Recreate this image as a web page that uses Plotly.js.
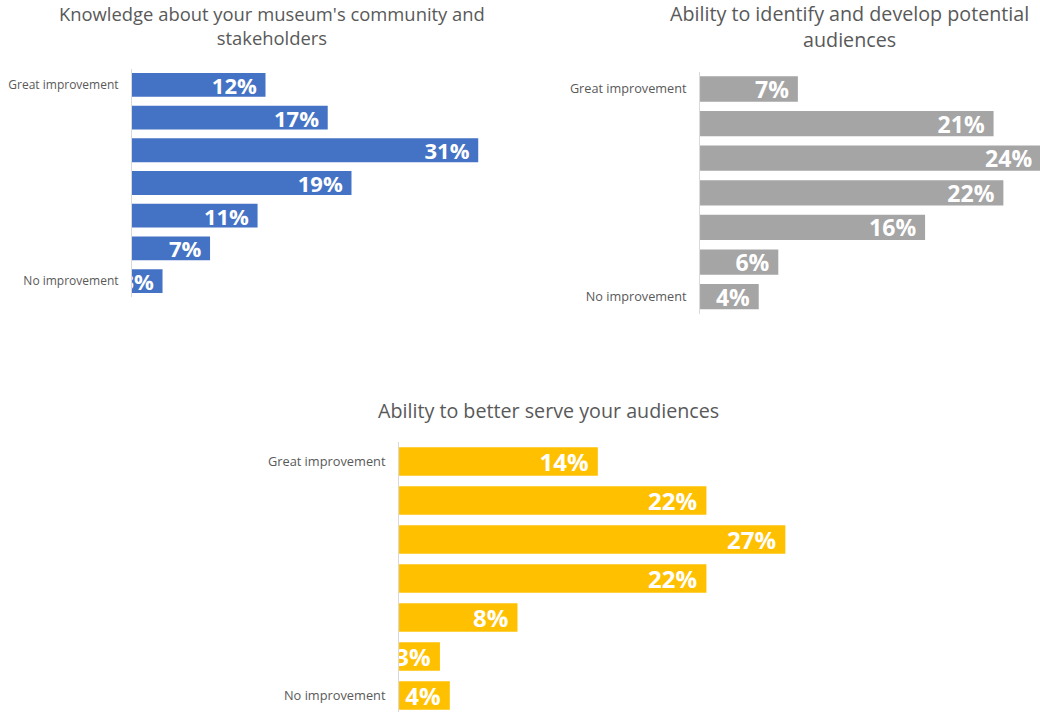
<!DOCTYPE html>
<html>
<head>
<meta charset="utf-8">
<script src="https://cdn.plot.ly/plotly-3.0.1.min.js"></script>
<style>html,body{margin:0;padding:0;background:#fff;}#chart{width:1040px;height:712px;}</style>
</head>
<body>
<div id="chart"></div>
<script>
// Scale points (top to bottom) and the two labelled ends
const scalePoints = ["Great improvement", "6", "5", "4", "3", "2", "No improvement"];
const tickLabels = ["Great improvement", "No improvement"];

// Chart titles
const title1 = "Knowledge about your museum's community and<br>stakeholders";
const title2 = "Ability to identify and develop potential<br>audiences";
const title3 = "Ability to better serve your audiences";

// Percent of respondents per scale point
const knowledgeCommunity = [11.8, 17.3, 30.6, 19.4, 11.1, 6.9, 2.7];
const identifyAudiences = [7.0, 21.0, 24.4, 21.7, 16.1, 5.6, 4.2];
const serveAudiences = [14.1, 21.8, 27.4, 21.8, 8.4, 2.9, 3.6];

const FONT = "Open Sans, Noto Sans, sans-serif";
const GREYTEXT = "#595959";

function barTrace(values, color, xa, ya, size) {
  return {
    type: "bar",
    orientation: "h",
    x: values,
    y: scalePoints,
    xaxis: xa,
    yaxis: ya,
    marker: {color: color, line: {width: 0}},
    texttemplate: "%{x:.0f}%\u00a0",
    textposition: "inside",
    insidetextanchor: "end",
    constraintext: "none",
    textangle: 0,
    textfont: {family: FONT, size: size, color: "#ffffff", weight: "bold"},
    hoverinfo: "skip",
    showlegend: false
  };
}

const data = [
  barTrace(knowledgeCommunity, "#4472C4", "x", "y", 22),
  barTrace(identifyAudiences, "#A5A5A5", "x2", "y2", 23),
  barTrace(serveAudiences, "#FFC000", "x3", "y3", 24)
];

function yAxis(domain, range, anchor, tsize) {
  return {
    domain: domain,
    anchor: anchor,
    type: "category",
    categoryorder: "array",
    categoryarray: scalePoints,
    range: range,
    tickvals: tickLabels,
    ticktext: tickLabels,
    ticks: "",
    ticklabelstandoff: 10,
    tickfont: {family: FONT, size: tsize, color: GREYTEXT},
    showline: true,
    linecolor: "#D9D9D9",
    linewidth: 1,
    showgrid: false,
    zeroline: false,
    fixedrange: true
  };
}

function xAxis(domain, range, anchor) {
  return {
    domain: domain,
    anchor: anchor,
    range: range,
    visible: false,
    showgrid: false,
    zeroline: false,
    fixedrange: true
  };
}

const layout = {
  width: 1040,
  height: 712,
  margin: {l: 0, r: 0, t: 0, b: 0},
  paper_bgcolor: "#ffffff",
  plot_bgcolor: "rgba(0,0,0,0)",
  bargap: 0.27,
  font: {family: FONT, color: GREYTEXT},
  xaxis: xAxis([0.1269, 0.5077], [0, 35], "y"),
  yaxis: yAxis([0.5823, 0.9037], [6.5, -0.5], "x", 12),
  xaxis2: xAxis([0.6731, 1.0], [0, 24.32], "y2"),
  yaxis2: yAxis([0.559, 0.8993], [6.5, -0.5], "x2", 12.7),
  xaxis3: xAxis([0.3837, 0.7904], [0, 30], "y3"),
  yaxis3: yAxis([0.0, 0.3792], [6.423, -0.5], "x3", 12.8),
  annotations: [
    {text: title1, xref: "paper", yref: "paper", x: 272/1040, y: 1 - 25/712,
     xanchor: "center", yanchor: "middle", showarrow: false,
     font: {family: FONT, size: 18.4, color: GREYTEXT}},
    {text: title2, xref: "paper", yref: "paper", x: 849/1040, y: 1 - 26.5/712,
     xanchor: "center", yanchor: "middle", showarrow: false,
     font: {family: FONT, size: 19.7, color: GREYTEXT}},
    {text: title3, xref: "paper", yref: "paper", x: 548/1040, y: 1 - 410/712,
     xanchor: "center", yanchor: "middle", showarrow: false,
     font: {family: FONT, size: 19.7, color: GREYTEXT}}
  ]
};

Plotly.newPlot("chart", data, layout, {displayModeBar: false, staticPlot: true});
</script>
</body>
</html>
